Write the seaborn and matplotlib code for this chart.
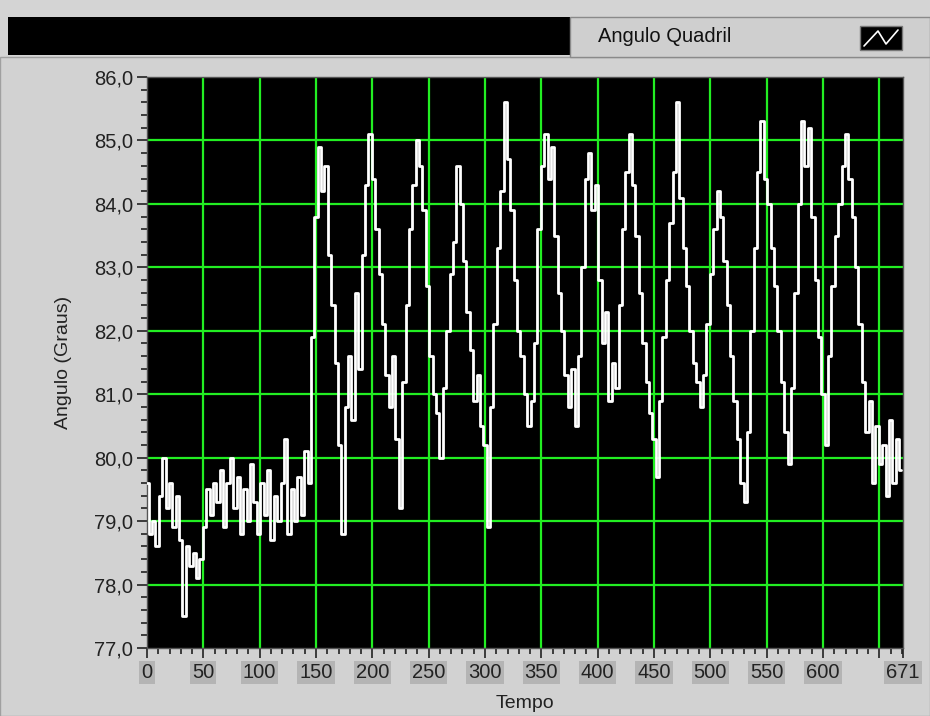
import numpy as np
import pandas as pd
import matplotlib
matplotlib.use("Agg")
import matplotlib.pyplot as plt
from matplotlib.patches import Rectangle
from matplotlib.lines import Line2D
from matplotlib.ticker import MultipleLocator, FixedLocator
import seaborn as sns

# ==========================================================
# Data (one value every 3 samples)
# ==========================================================
angulo = [
    79.6, 78.8, 79.0, 78.6, 79.4, 80.0, 79.2, 79.6, 78.9, 79.4,
    78.7, 77.5, 78.6, 78.3, 78.5, 78.1, 78.4, 78.9, 79.5, 79.1,
    79.6, 79.3, 79.8, 78.9, 79.6, 80.0, 79.2, 79.7, 78.8, 79.5,
    79.0, 79.9, 79.3, 78.8, 79.6, 79.1, 79.8, 78.7, 79.4, 79.0,
    79.6, 80.3, 78.8, 79.5, 79.0, 79.7, 79.1, 80.1, 79.6, 81.9,
    83.8, 84.9, 84.2, 84.6, 83.2, 82.4, 81.5, 80.2, 78.8, 80.8,
    81.6, 80.6, 82.6, 81.4, 83.2, 84.3, 85.1, 84.4, 83.6, 82.9,
    82.1, 81.3, 80.8, 81.6, 80.3, 79.2, 81.2, 82.4, 83.6, 84.3,
    85.0, 84.6, 83.9, 82.7, 81.6, 81.0, 80.7, 80.0, 81.1, 82.0,
    82.9, 83.4, 84.6, 84.0, 83.1, 82.3, 81.7, 80.9, 81.3, 80.5,
    80.2, 78.9, 80.8, 82.1, 83.3, 84.2, 85.6, 84.7, 83.9, 82.8,
    82.0, 81.6, 81.0, 80.5, 80.9, 81.8, 83.6, 84.6, 85.1, 84.4,
    84.9, 83.5, 82.6, 82.0, 81.3, 80.8, 81.4, 80.5, 81.6, 83.0,
    84.4, 84.8, 83.9, 84.3, 82.8, 81.8, 82.3, 80.9, 81.5, 81.1,
    82.4, 83.6, 84.5, 85.1, 84.3, 83.5, 82.6, 81.8, 81.2, 80.7,
    80.3, 79.7, 80.9, 81.9, 82.8, 83.7, 84.5, 85.6, 84.1, 83.3,
    82.7, 82.0, 81.5, 81.2, 80.8, 81.3, 82.1, 82.9, 83.6, 84.2,
    83.8, 83.1, 82.4, 81.6, 80.9, 80.3, 79.6, 79.3, 80.4, 82.0,
    83.3, 84.5, 85.3, 84.4, 84.0, 83.3, 82.7, 82.0, 81.2, 80.4,
    79.9, 81.1, 82.6, 84.0, 85.3, 84.6, 85.2, 83.8, 82.8, 81.9,
    81.0, 80.2, 81.6, 82.7, 83.5, 84.0, 84.6, 85.1, 84.4, 83.8,
    83.0, 82.1, 81.2, 80.4, 80.9, 79.6, 80.5, 79.9, 80.2, 79.4,
    80.6, 79.6, 80.3, 79.8,
]
tempo = np.arange(0, 3 * len(angulo), 3)

x_ticks = [0, 50, 100, 150, 200, 250, 300, 350, 400, 450, 500, 550, 600, 650, 671]
x_labels = ["0", "50", "100", "150", "200", "250", "300", "350", "400",
            "450", "500", "550", "600", "", "671"]
y_ticks = [77, 78, 79, 80, 81, 82, 83, 84, 85, 86]
y_labels = [f"{v},0" for v in y_ticks]

df = pd.DataFrame({"Tempo": tempo, "Angulo": angulo})

# ==========================================================
# Style
# ==========================================================
panel = "#d4d4d4"
sns.set_style("dark", {"axes.facecolor": "black", "figure.facecolor": panel})
plt.rcParams["font.family"] = ["Liberation Sans", "DejaVu Sans"]

fig = plt.figure(figsize=(9.3, 7.16), dpi=100)
ax = fig.add_axes([147 / 930, 1 - 648 / 716, 756 / 930, 571 / 716])

sns.lineplot(data=df, x="Tempo", y="Angulo", ax=ax, color="white",
             linewidth=2.0, drawstyle="steps-mid", zorder=3)

ax.set_xlim(0, 671)
ax.set_ylim(77, 86)

# green grid
for xv in x_ticks[1:-1]:
    ax.axvline(xv, color="#22ee22", linewidth=1.6, zorder=2)
for yv in y_ticks[1:-1]:
    ax.axhline(yv, color="#22ee22", linewidth=1.6, zorder=2)

ax.xaxis.set_major_locator(FixedLocator(x_ticks))
ax.set_xticklabels(x_labels)
ax.xaxis.set_minor_locator(MultipleLocator(10))
ax.yaxis.set_major_locator(FixedLocator(y_ticks))
ax.set_yticklabels(y_labels)
ax.yaxis.set_minor_locator(MultipleLocator(0.2))

ax.tick_params(axis="both", which="major", length=7, width=1.2, color="#222222",
               labelsize=14.5, labelcolor="#222222", direction="out", bottom=True, left=True)
ax.tick_params(axis="both", which="minor", length=4, width=1.2, color="#222222",
               direction="out", bottom=True, left=True)
ax.tick_params(axis="y", pad=3)
ax.tick_params(axis="x", pad=4)
for lab in ax.get_xticklabels():
    lab.set_bbox(dict(facecolor="#b4b4b4", edgecolor="none", pad=1.5))

for s in ax.spines.values():
    s.set_visible(True)
    s.set_color("#555555")
    s.set_linewidth(1.0)

ax.set_xlabel("Tempo", fontsize=14, color="#222222", labelpad=9)
ax.set_ylabel("Angulo (Graus)", fontsize=14, color="#222222", labelpad=16)

# ==========================================================
# Top bar with legend
# ==========================================================
fig.patches.append(Rectangle((0, 0), 1, 1 - 57 / 716, transform=fig.transFigure,
                             facecolor="#d2d2d2", edgecolor="#a0a0a0", zorder=-10))
fig.patches.append(Rectangle((8 / 930, 1 - 55 / 716), 562 / 930, 38 / 716,
                             transform=fig.transFigure, facecolor="black",
                             edgecolor="none", zorder=1))
fig.patches.append(Rectangle((570 / 930, 1 - 57 / 716), 360 / 930, 40 / 716,
                             transform=fig.transFigure, facecolor="#cfcfcf",
                             edgecolor="#8a8a8a", linewidth=1, zorder=1))
fig.text(598 / 930, 1 - 37 / 716, "Angulo Quadril", fontsize=14.5, color="#111111",
         va="center", ha="left")
fig.patches.append(Rectangle((860 / 930, 1 - 50 / 716), 42 / 930, 24 / 716,
                             transform=fig.transFigure, facecolor="black",
                             edgecolor="#777777", zorder=2))
fig.lines.append(Line2D([864 / 930, 878 / 930, 886 / 930, 898 / 930],
                        [1 - 46 / 716, 1 - 31 / 716, 1 - 44 / 716, 1 - 30 / 716],
                        transform=fig.transFigure, color="white", linewidth=1.2, zorder=3))

fig.savefig("out.png", dpi=100)
